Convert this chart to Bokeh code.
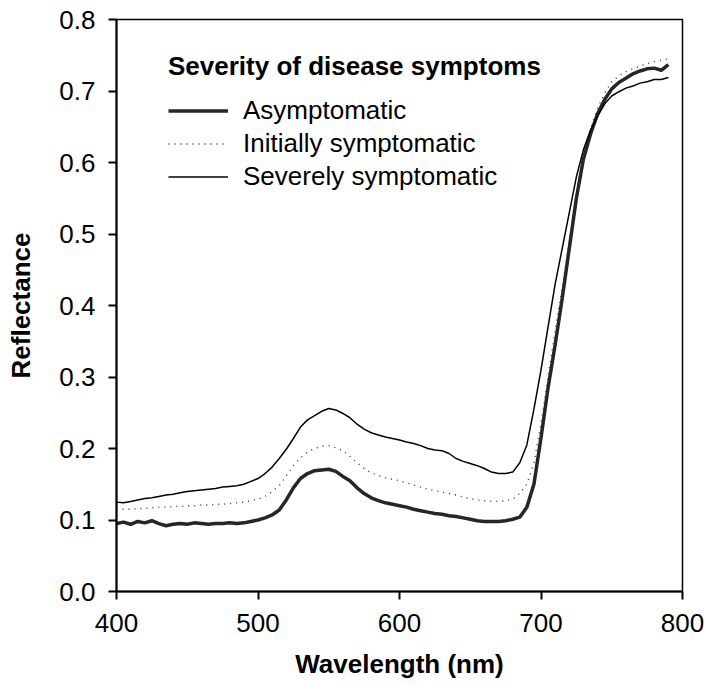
from bokeh.plotting import figure
from bokeh.models import FixedTicker, PrintfTickFormatter, Range1d, Legend, LegendItem
from bokeh.embed import file_html
from bokeh.resources import INLINE

# Wavelength grid (nm), 5 nm steps
wavelength = list(range(400, 791, 5))

asymptomatic = [
    0.095, 0.097, 0.094, 0.098, 0.096, 0.099, 0.095, 0.092, 0.094, 0.095,
    0.094, 0.096, 0.095, 0.094, 0.095, 0.095, 0.096, 0.095, 0.096, 0.098,
    0.100, 0.103, 0.107, 0.114, 0.128, 0.145, 0.158, 0.165, 0.169, 0.170,
    0.171, 0.168, 0.161, 0.155, 0.145, 0.137, 0.131, 0.127, 0.124, 0.122,
    0.120, 0.118, 0.115, 0.113, 0.111, 0.109, 0.108, 0.106, 0.105, 0.103,
    0.101, 0.099, 0.098, 0.098, 0.098, 0.099, 0.101, 0.104, 0.118, 0.150,
    0.215, 0.285, 0.345, 0.410, 0.480, 0.550, 0.605, 0.640, 0.668, 0.688,
    0.703, 0.712, 0.718, 0.724, 0.728, 0.731, 0.732, 0.729, 0.737,
]

initially = [
    0.114, 0.115, 0.115, 0.116, 0.116, 0.117, 0.118, 0.118, 0.119, 0.119,
    0.120, 0.120, 0.121, 0.121, 0.122, 0.122, 0.123, 0.124, 0.125, 0.127,
    0.129, 0.133, 0.140, 0.148, 0.162, 0.176, 0.187, 0.195, 0.200, 0.203,
    0.204, 0.201, 0.197, 0.189, 0.180, 0.172, 0.166, 0.162, 0.159, 0.157,
    0.155, 0.152, 0.149, 0.146, 0.143, 0.141, 0.139, 0.137, 0.135, 0.132,
    0.130, 0.128, 0.127, 0.126, 0.126, 0.127, 0.129, 0.137, 0.150, 0.180,
    0.235, 0.300, 0.365, 0.425, 0.490, 0.555, 0.610, 0.648, 0.676, 0.697,
    0.713, 0.721, 0.727, 0.731, 0.735, 0.738, 0.741, 0.743, 0.745,
]

severe = [
    0.125, 0.124, 0.126, 0.128, 0.130, 0.131, 0.133, 0.135, 0.136, 0.138,
    0.140, 0.141, 0.142, 0.143, 0.144, 0.146, 0.147, 0.148, 0.150, 0.154,
    0.158, 0.165, 0.174, 0.186, 0.199, 0.214, 0.230, 0.240, 0.246, 0.252,
    0.256, 0.254, 0.249, 0.243, 0.234, 0.227, 0.222, 0.219, 0.216, 0.214,
    0.212, 0.209, 0.207, 0.204, 0.200, 0.198, 0.197, 0.193, 0.186, 0.182,
    0.179, 0.176, 0.172, 0.167, 0.165, 0.165, 0.167, 0.180, 0.205, 0.255,
    0.310, 0.370, 0.430, 0.480, 0.530, 0.580, 0.618, 0.645, 0.665, 0.682,
    0.693, 0.699, 0.704, 0.707, 0.711, 0.713, 0.716, 0.716, 0.719,
]

x_ticks = [400, 500, 600, 700, 800]
y_ticks = [0.0, 0.1, 0.2, 0.3, 0.4, 0.5, 0.6, 0.7, 0.8]

FONT = "Liberation Sans"

p = figure(
    width=706, height=693,
    output_backend="svg", toolbar_location=None,
    x_range=Range1d(400, 800), y_range=Range1d(0, 0.8),
    min_border_left=116, min_border_right=24,
    min_border_top=19, min_border_bottom=102,
)
p.background_fill_color = "white"
p.border_fill_color = "white"
p.outline_line_color = "black"
p.outline_line_width = 1.5
p.xgrid.visible = False
p.ygrid.visible = False

r_asym = p.line(wavelength, asymptomatic, line_color="#262626", line_width=3.5)
r_init = p.line(wavelength, initially, line_color="#333333", line_width=1.4,
                line_dash="1 5")
r_sev = p.line(wavelength, severe, line_color="black", line_width=1.5)

for ax in (p.xaxis[0], p.yaxis[0]):
    ax.axis_line_width = 2
    ax.axis_line_color = "black"
    ax.major_tick_line_width = 2
    ax.major_tick_line_color = "black"
    ax.major_tick_out = 8
    ax.major_tick_in = 0
    ax.minor_tick_line_color = None
    ax.major_label_text_font = FONT
    ax.major_label_text_font_size = "26px"
    ax.major_label_text_color = "black"
    ax.axis_label_text_font = FONT
    ax.axis_label_text_font_size = "26px"
    ax.axis_label_text_font_style = "bold"
    ax.axis_label_text_color = "black"

p.xaxis.ticker = FixedTicker(ticks=x_ticks)
p.yaxis.ticker = FixedTicker(ticks=y_ticks)
p.yaxis.formatter = PrintfTickFormatter(format="%.1f")
p.xaxis.axis_label = "Wavelength (nm)"
p.yaxis.axis_label = "Reflectance"
p.xaxis.major_label_standoff = 14
p.yaxis.major_label_standoff = 13
p.xaxis.axis_label_standoff = 14
p.yaxis.axis_label_standoff = 20

legend = Legend(
    items=[
        LegendItem(label="Asymptomatic", renderers=[r_asym]),
        LegendItem(label="Initially symptomatic", renderers=[r_init]),
        LegendItem(label="Severely symptomatic", renderers=[r_sev]),
    ],
    title="Severity of disease symptoms",
    location=(52, 398),
    padding=0, margin=0, spacing=0,
    glyph_width=60, glyph_height=33, label_height=33,
    label_standoff=15,
    title_standoff=12,
    border_line_color=None,
    background_fill_alpha=0,
    label_text_font=FONT, label_text_font_size="26px", label_text_color="black",
    title_text_font=FONT, title_text_font_size="26px",
    title_text_font_style="bold", title_text_color="black",
)
p.add_layout(legend, "center")

open("out.html", "w").write(file_html(p, INLINE))
